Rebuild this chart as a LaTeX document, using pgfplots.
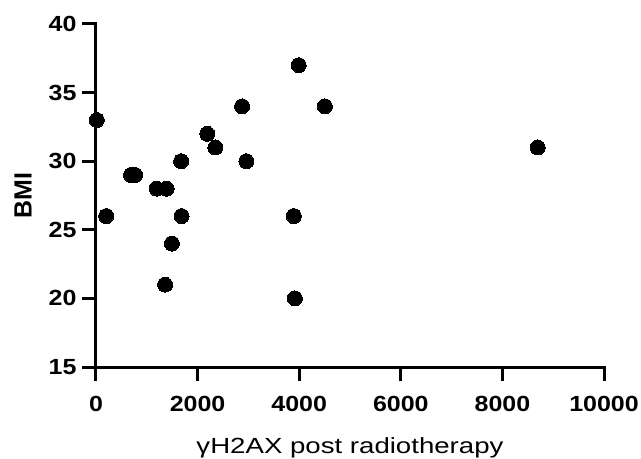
\documentclass[border=0pt]{standalone}
\usepackage{fontspec}
\setmainfont{Liberation Sans}
\newfontfamily\tickfont{Liberation Sans}[FakeStretch=1.14]
\usepackage{pgfplots}
\pgfplotsset{compat=1.18}

\begin{document}
\begin{tikzpicture}
\begin{axis}[scale only axis, width=508bp, height=343bp,
  xmin=0, xmax=10000, ymin=15, ymax=40,
  axis lines=left, axis line style={-, line width=3bp, line cap=rect},
  xtick={0,2000,...,10000}, ytick={15,20,...,40}, scaled x ticks=false,
  tick align=outside, major tick length=14bp,
  tick style={line width=3bp, black},
  /pgf/number format/1000 sep={}, /pgf/number format/assume math mode=true,
  ticklabel style={font=\tickfont\fontsize{22}{22}\selectfont\bfseries},
  xticklabel style={yshift=-12bp},
  yticklabel style={xshift=-2bp},
  xlabel={\scalebox{1.26}[1]{γH2AX post radiotherapy}}, ylabel={BMI},
  xlabel style={font=\fontsize{22}{22}\selectfont, at={(axis description cs:0.5,0)}, anchor=base, yshift=-86bp},
  ylabel style={font=\fontsize{25}{25}\selectfont\bfseries, at={(axis description cs:0,0.5)}, anchor=center, yshift=73bp},
  clip=false]
\addplot[only marks, mark=*, mark size=7.5bp, mark options={fill=black, draw=black, line width=0pt}] coordinates {
  (15,33) (200,26) (690,29) (770,29) (1195,28) (1390,28)
  (1675,30) (1685,26) (1495,24) (1360,21) (2190,32) (2350,31)
  (2875,34) (2960,30) (3895,26) (3915,20) (3990,37) (4505,34) (8695,31)};
\end{axis}
\pgfresetboundingbox
\path[use as bounding box] (-96bp,-92bp) rectangle (545bp,367bp);
\end{tikzpicture}
\end{document}
